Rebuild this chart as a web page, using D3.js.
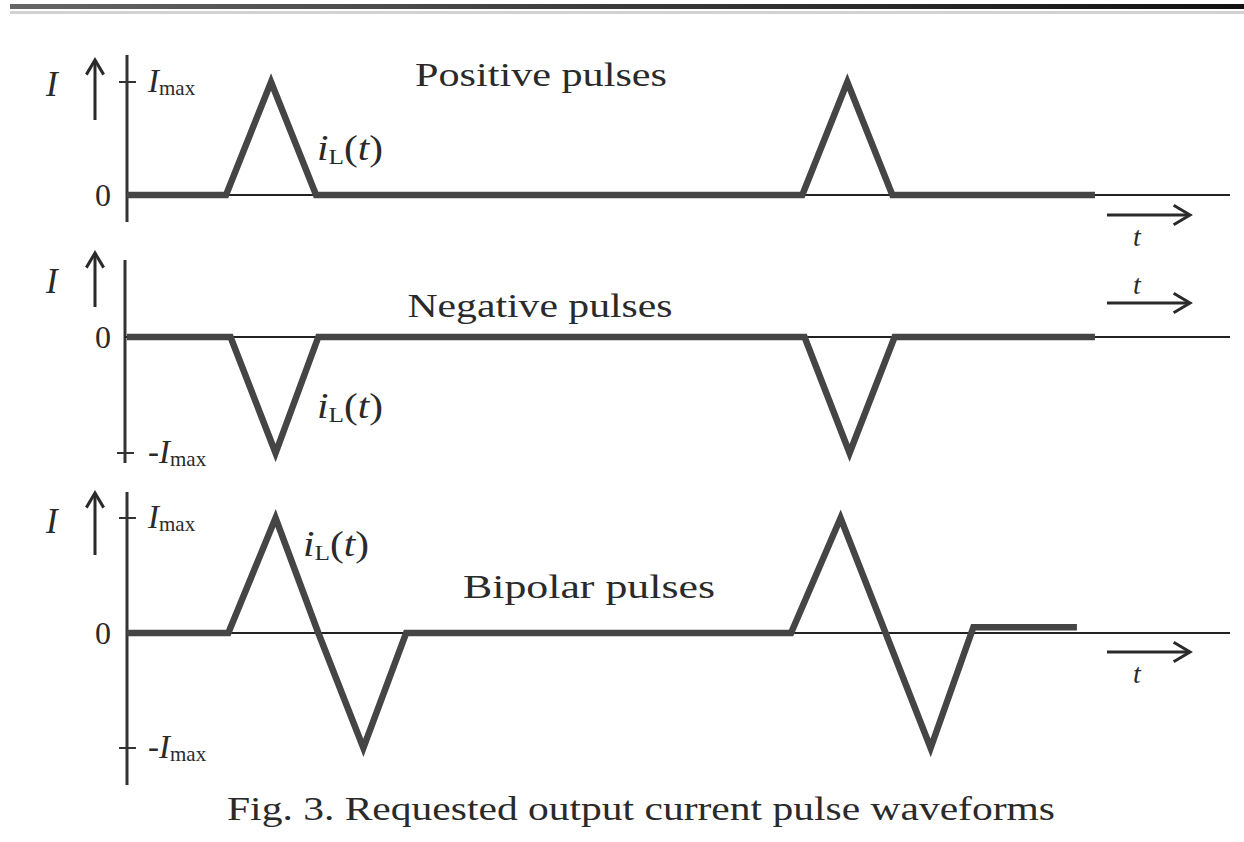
<!DOCTYPE html>
<html>
<head>
<meta charset="utf-8">
<script src="https://cdn.jsdelivr.net/npm/d3@7"></script>
<style>
  body { margin: 0; background: #fff; }
  text { font-family: "Liberation Serif", "Times New Roman", serif; fill: #2a2a2a; }
</style>
</head>
<body>
<script>
// waveform data: [time, current / Imax]
var positivePulses = [[0, 0], [2.2, 0], [3.2, 1], [4.2, 0], [15.0, 0], [16.0, 1], [17.0, 0], [21.5, 0]];
var negativePulses = [[0, 0], [2.3, 0], [3.3, -1], [4.25, 0], [15.05, 0], [16.05, -1], [17.05, 0], [21.5, 0]];
var bipolarPulses = [[0, 0], [2.25, 0], [3.3, 1], [4.25, 0], [5.25, -1], [6.2, 0], [14.75, 0], [15.85, 1], [16.85, 0], [17.85, -1], [18.8, 0.05], [21.1, 0.05]];

var panelTitles = ["Positive pulses", "Negative pulses", "Bipolar pulses"];
var caption = "Fig. 3. Requested output current pulse waveforms";

var width = 1244, height = 842;

var svg = d3.select("body")
            .append("svg")
            .attr("width", width)
            .attr("height", height);

// scanned page edge at the top
var grad = svg.append("defs").append("linearGradient").attr("id", "edge");
grad.append("stop").attr("offset", "0").attr("stop-color", "#666");
grad.append("stop").attr("offset", "0.5").attr("stop-color", "#3a3a3a");
grad.append("stop").attr("offset", "1").attr("stop-color", "#111");
svg.append("rect").attr("x", 10).attr("y", 4).attr("width", width - 10).attr("height", 5).attr("fill", "url(#edge)");
svg.append("rect").attr("x", 10).attr("y", 11).attr("width", width - 10).attr("height", 3).attr("fill", "#d2d2d2");

var x = d3.scaleLinear().domain([0, 24.5]).range([127, 1230]);

var panels = [
  {data: positivePulses, y: d3.scaleLinear().domain([0, 1]).range([195, 82]), axisTop: 55, axisBottom: 222, axisX: 127,
   ticks: [1], title: panelTitles[0], titleX: 541, titleY: 86, titleW: 252, iL: [317, 160], tArrow: 215, tLabelY: 246, tickLabels: [["Imax", 1]], iY: 96, arrowBottom: 120, arrowTop: 60},
  {data: negativePulses, y: d3.scaleLinear().domain([-1, 0]).range([453, 337]), axisTop: 260, axisBottom: 463, axisX: 125,
   ticks: [-1], title: panelTitles[1], titleX: 540, titleY: 317, titleW: 265, iL: [317, 418], tArrow: 303, tLabelY: 294, tickLabels: [["-Imax", -1]], iY: 293, arrowBottom: 307, arrowTop: 253},
  {data: bipolarPulses, y: d3.scaleLinear().domain([-1, 1]).range([748, 518]), axisTop: 492, axisBottom: 785, axisX: 127,
   ticks: [1, -1], title: panelTitles[2], titleX: 589, titleY: 598, titleW: 252, iL: [303, 556], tArrow: 652, tLabelY: 683, tickLabels: [["Imax", 1], ["-Imax", -1]], iY: 533, arrowBottom: 555, arrowTop: 493}
];

var line = d3.line();

function arrow(g, x1, y1, x2, y2, head) {
  g.append("line").attr("x1", x1).attr("y1", y1).attr("x2", x2).attr("y2", y2)
   .attr("stroke", "#2a2a2a").attr("stroke-width", 3);
  var ang = Math.atan2(y2 - y1, x2 - x1);
  var a1 = ang + Math.PI * 0.83, a2 = ang - Math.PI * 0.83;
  g.append("path")
   .attr("d", "M" + (x2 + head * Math.cos(a1)) + "," + (y2 + head * Math.sin(a1)) + "L" + x2 + "," + y2 + "L" + (x2 + head * Math.cos(a2)) + "," + (y2 + head * Math.sin(a2)))
   .attr("fill", "none").attr("stroke", "#2a2a2a").attr("stroke-width", 3);
}

panels.forEach(function(p) {
  var g = svg.append("g");
  var y = p.y;
  var y0 = y(0);

  // vertical axis
  g.append("line").attr("x1", p.axisX).attr("x2", p.axisX).attr("y1", p.axisTop).attr("y2", p.axisBottom)
   .attr("stroke", "#333").attr("stroke-width", 3);

  // thin time axis
  g.append("line").attr("x1", p.axisX).attr("x2", x(24.5)).attr("y1", y0).attr("y2", y0)
   .attr("stroke", "#222").attr("stroke-width", 2);

  // ticks at +/- Imax
  g.selectAll(".tick").data(p.ticks).enter().append("line")
   .attr("x1", p.axisX - 8).attr("x2", p.axisX + 9)
   .attr("y1", function(d) { return y(d); }).attr("y2", function(d) { return y(d); })
   .attr("stroke", "#333").attr("stroke-width", 2);

  // waveform
  g.append("path")
   .attr("d", line(p.data.map(function(d) { return [x(d[0]), y(d[1])]; })))
   .attr("fill", "none")
   .attr("stroke", "#454545")
   .attr("stroke-width", 6.5)
   .attr("stroke-linejoin", "miter");

  // I label and up arrow
  g.append("text").attr("x", 46).attr("y", p.iY).attr("font-size", 35).attr("font-style", "italic").text("I");
  arrow(g, 95, p.arrowBottom, 95, p.arrowTop, 17);

  // zero label
  g.append("text").attr("x", 103).attr("y", y0 + 11).attr("text-anchor", "middle").attr("font-size", 32).text("0");

  // Imax labels
  p.tickLabels.forEach(function(t) {
    var tx = g.append("text").attr("x", 148).attr("y", y(t[1]) + 10).attr("font-size", 33);
    if (t[0].charAt(0) === "-") tx.append("tspan").text("-");
    tx.append("tspan").attr("font-style", "italic").text("I");
    tx.append("tspan").attr("font-size", 21).attr("dy", 3).text("max");
  });

  // i_L(t)
  var il = g.append("text").attr("x", p.iL[0]).attr("y", p.iL[1]).attr("font-size", 36)
            .attr("textLength", 66).attr("lengthAdjust", "spacingAndGlyphs");
  il.append("tspan").attr("font-style", "italic").text("i");
  il.append("tspan").attr("font-size", 22).attr("dy", 4).text("L");
  il.append("tspan").attr("dy", -4).text("(");
  il.append("tspan").attr("font-style", "italic").text("t");
  il.append("tspan").text(")");

  // title
  g.append("text").attr("x", p.titleX).attr("y", p.titleY).attr("text-anchor", "middle").attr("font-size", 34)
   .attr("textLength", p.titleW).attr("lengthAdjust", "spacingAndGlyphs").text(p.title);

  // time arrow
  arrow(g, 1107, p.tArrow, 1190, p.tArrow, 19);
  g.append("text").attr("x", 1137).attr("y", p.tLabelY).attr("text-anchor", "middle")
   .attr("font-size", 28).attr("font-style", "italic").text("t");
});

svg.append("text").attr("x", 641).attr("y", 820).attr("text-anchor", "middle")
   .attr("font-size", 34).attr("textLength", 828).attr("lengthAdjust", "spacingAndGlyphs").text(caption);
</script>
</body>
</html>
